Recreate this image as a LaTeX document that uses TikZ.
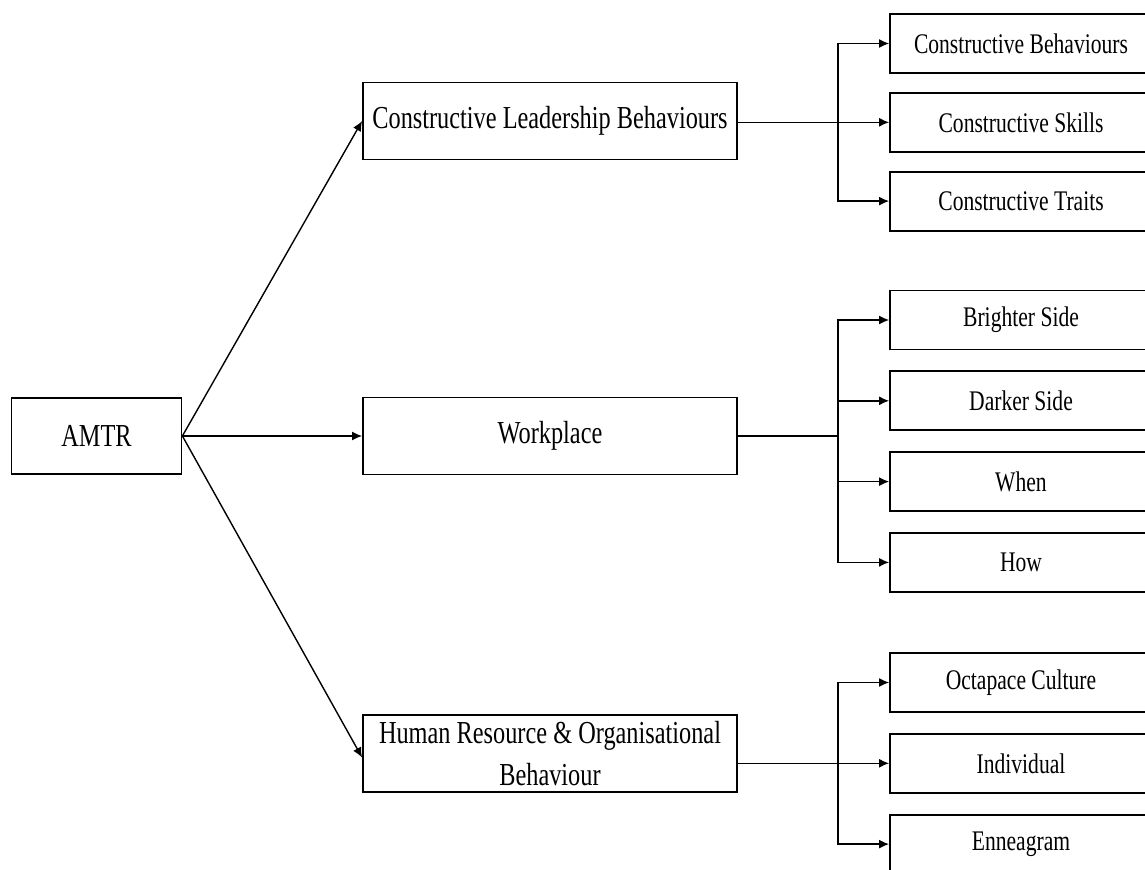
\documentclass[tikz,border=0pt]{standalone}
\usepackage{fontspec}
\setmainfont{Liberation Serif}[FakeStretch=0.76]
\usetikzlibrary{arrows.meta,positioning}

\begin{document}
\begin{tikzpicture}[
  x=0.5pt,y=-0.5pt,
  font=\fontsize{16}{21}\selectfont,
  box/.style={draw,line width=0.9pt,minimum width=187pt,minimum height=38.5pt,inner sep=1pt,align=center},
  leaf/.style={draw,line width=0.9pt,minimum width=131pt,minimum height=29.5pt,inner sep=1pt,font=\fontsize{14.2}{17}\selectfont},
  arrow/.style={-{Latex[length=5pt,width=4.5pt]},line width=0.7pt},
]
  \useasboundingbox (0,0) rectangle (1145,869);

  \node[box,minimum width=85pt,minimum height=38pt] (amtr) at (96.5,436) {AMTR};
  \node[box] (clb) at (550,121) {Constructive Leadership Behaviours};
  \node[box] (wp) at (550,436) {Workplace};
  \node[box] (hr) at (550,753.5) {Human Resource \& Organisational\\Behaviour};

  % first group
  \node[leaf] (cb) at (1021,43.5) {Constructive Behaviours};
  \node[leaf,below=9pt of cb] (cs) {Constructive Skills};
  \node[leaf,below=9pt of cs] (ct) {Constructive Traits};

  % second group
  \node[leaf] (bs) at (1021,320) {Brighter Side};
  \node[leaf,below=10pt of bs] (ds) {Darker Side};
  \node[leaf,below=10pt of ds] (when) {When};
  \node[leaf,below=10pt of when] (how) {How};

  % third group
  \node[leaf] (oc) at (1021,682.5) {Octapace Culture};
  \node[leaf,below=10pt of oc] (ind) {Individual};
  \node[leaf,below=10pt of ind] (enn) {Enneagram};

  \draw[arrow] (amtr.east) -- (clb.west);
  \draw[arrow] (amtr.east) -- (wp.west);
  \draw[arrow] (amtr.east) -- ([yshift=-2pt]hr.west);

  \coordinate[right=50pt of clb.east] (f1);
  \draw[arrow] (clb.east |- cs.west) -- (cs.west);
  \draw[arrow] (f1) |- (cb.west);
  \draw[arrow] (f1) |- (ct.west);

  \coordinate[right=50pt of wp.east] (f2);
  \draw[line width=0.7pt] (wp.east) -- (f2);
  \draw[arrow] (f2) |- (bs.west);
  \draw[arrow] (f2) |- (ds.west);
  \draw[arrow] (f2) |- (when.west);
  \draw[arrow] (f2) |- (how.west);

  \coordinate (f3) at (f2 |- ind.west);
  \draw[arrow] (hr.east |- ind.west) -- (ind.west);
  \draw[arrow] (f3) |- (oc.west);
  \draw[arrow] (f3) |- (enn.west);
\end{tikzpicture}
\end{document}
